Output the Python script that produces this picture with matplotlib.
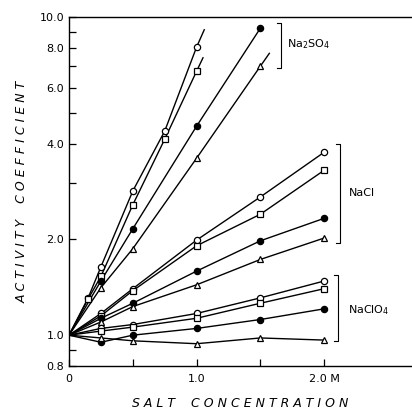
import matplotlib.pyplot as plt
import numpy as np

# salt concentration (M) for each set of measurements
x_na2so4 = [0.15, 0.25, 0.5, 0.75, 1.0]
x_na2so4_long = [0.25, 0.5, 1.0, 1.5]
x_salt = [0.25, 0.5, 1.0, 1.5, 2.0]

# Na2SO4 activity coefficients
na2so4_circle = [1.31, 1.64, 2.84, 4.38, 8.05]
na2so4_square = [1.30, 1.53, 2.57, 4.13, 6.76]
na2so4_filled = [1.48, 2.16, 4.54, 9.23]
na2so4_triangle = [1.41, 1.87, 3.60, 7.01]

# NaCl
nacl_circle = [1.17, 1.40, 1.99, 2.72, 3.76]
nacl_square = [1.15, 1.38, 1.91, 2.40, 3.30]
nacl_filled = [1.13, 1.26, 1.59, 1.98, 2.33]
nacl_triangle = [1.10, 1.23, 1.44, 1.73, 2.02]

# NaClO4
naclo4_circle = [1.05, 1.08, 1.17, 1.31, 1.48]
naclo4_square = [1.03, 1.06, 1.13, 1.26, 1.40]
naclo4_filled = [0.95, 1.00, 1.05, 1.12, 1.21]
naclo4_triangle = [0.98, 0.96, 0.94, 0.98, 0.965]

fig = plt.figure(figsize=(4.12, 4.11), dpi=100)
ax = fig.add_axes([0.1675, 0.1095, 0.83, 0.849])
ax.set_yscale('log')

def draw(xs, ys, marker, filled, x_end=None):
    xs = np.array(xs, dtype=float)
    ys = np.array(ys, dtype=float)
    # line from the common origin (0, 1) through the points
    lx = np.concatenate([[0.0], xs])
    ly = np.concatenate([[1.0], ys])
    if x_end is not None:
        # extend past the last point along the trend of the last three points
        slope = np.polyfit(xs[-3:], np.log10(ys[-3:]), 1)[0]
        lx = np.append(lx, x_end)
        ly = np.append(ly, ys[-1] * 10 ** (slope * (x_end - xs[-1])))
    ax.plot(lx, ly, color='black', lw=1.0)
    ax.plot(xs, ys, linestyle='none', marker=marker, ms=4.5, mew=0.9,
            mec='black', mfc='black' if filled else 'white', zorder=3)

draw(x_na2so4, na2so4_circle, 'o', False, 1.06)
draw(x_na2so4, na2so4_square, 's', False, 1.05)
draw(x_na2so4_long, na2so4_filled, 'o', True)
draw(x_na2so4_long, na2so4_triangle, '^', False, 1.57)

for ys, m, f in [(nacl_circle, 'o', False), (nacl_square, 's', False),
                 (nacl_filled, 'o', True), (nacl_triangle, '^', False),
                 (naclo4_circle, 'o', False), (naclo4_square, 's', False),
                 (naclo4_filled, 'o', True), (naclo4_triangle, '^', False)]:
    draw(x_salt, ys, m, f)

ax.set_xlim(0, 2.68)
ax.set_ylim(0.8, 10.0)

yticks = [0.8, 1.0, 2.0, 4.0, 6.0, 8.0, 10.0]
ax.set_yticks(yticks)
ax.set_yticklabels(['%.1f' % v for v in yticks])
ax.set_yticks([0.9, 3.0, 5.0, 7.0, 9.0], minor=True)
ax.yaxis.set_minor_formatter(plt.NullFormatter())
ax.set_xticks([0, 1.0, 2.0])
ax.set_xticklabels(['0', '1.0', '2.0 M'])
ax.set_xticks([0.5, 1.5], minor=True)
ax.tick_params(which='both', direction='in', labelsize=8, top=False, right=False)
ax.tick_params(which='major', length=5, width=0.9)
ax.tick_params(which='minor', length=5, width=0.9)
ax.tick_params(axis='x', pad=6)

ax.spines['right'].set_visible(False)
for s in ['left', 'bottom', 'top']:
    ax.spines[s].set_linewidth(1.0)

ax.set_xlabel('S A L T    C O N C E N T R A T I O N', fontsize=9, style='italic', labelpad=9)
ax.set_ylabel('A C T I V I T Y    C O E F F I C I E N T', fontsize=9, style='italic', labelpad=8)

# brackets grouping the salts
def bracket(x, y0, y1):
    ax.plot([x - 0.03, x, x, x - 0.03], [y0, y0, y1, y1], color='black', lw=0.8,
            clip_on=False)

bracket(1.66, 6.9, 9.6)
ax.text(1.71, 8.2, 'Na$_2$SO$_4$', fontsize=8, va='center')
bracket(2.12, 1.95, 4.0)
ax.text(2.19, 2.8, 'NaCl', fontsize=8, va='center')
bracket(2.11, 0.96, 1.55)
ax.text(2.19, 1.2, 'NaClO$_4$', fontsize=8, va='center')

fig.savefig('out.png', dpi=100)
